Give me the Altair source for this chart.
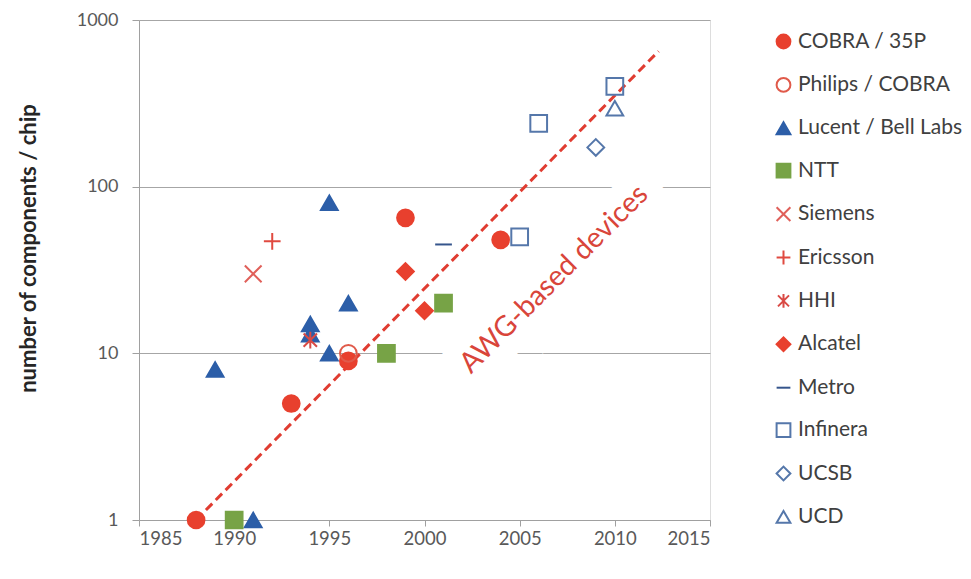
import altair as alt
import pandas as pd

# ---- data ----
companies = ["COBRA / 35P", "Philips / COBRA", "Lucent / Bell Labs", "NTT", "Siemens",
             "Ericsson", "HHI", "Alcatel", "Metro", "Infinera", "UCSB", "UCD"]

cobra_x = [1988, 1993, 1996, 1999, 2004]
cobra_y = [1, 5, 9, 65, 48]
philips_x = [1996]
philips_y = [10]
lucent_x = [1989, 1991, 1994, 1994, 1995, 1995, 1996]
lucent_y = [8, 1, 15, 13, 80, 10, 20]
ntt_x = [1990, 1998, 2001]
ntt_y = [1, 10, 20]
siemens_x = [1991]
siemens_y = [30]
ericsson_x = [1992]
ericsson_y = [47]
hhi_x = [1994]
hhi_y = [12]
alcatel_x = [1999, 2000]
alcatel_y = [31, 18]
metro_x = [2001]
metro_y = [45]
infinera_x = [2005, 2006, 2010]
infinera_y = [50, 240, 400]
ucsb_x = [2009]
ucsb_y = [172]
ucd_x = [2010]
ucd_y = [295]

trend_x = [1988, 2012.3]
trend_y = [1, 650]
label_text = ["AWG-based devices"]
label_x = [2006.8]
label_y = [28]

series = [cobra_x, philips_x, lucent_x, ntt_x, siemens_x, ericsson_x, hhi_x,
          alcatel_x, metro_x, infinera_x, ucsb_x, ucd_x]
series_y = [cobra_y, philips_y, lucent_y, ntt_y, siemens_y, ericsson_y, hhi_y,
            alcatel_y, metro_y, infinera_y, ucsb_y, ucd_y]

rows = []
for name, xs, ys in zip(companies, series, series_y):
    for xv, yv in zip(xs, ys):
        rows.append({"company": name, "year": xv, "count": yv})
df = pd.DataFrame(rows)

# ---- styles ----
RED = "#E8402E"
BLUE = "#2C5EA8"
GREEN = "#77A346"
STEEL = "#5577AA"
stroke_colors = [RED, "#E05A4A", BLUE, GREEN, "#E0605A", "#E04A40", "#D94A45",
                 RED, "#35558C", STEEL, STEEL, STEEL]
fill_colors = [RED, "transparent", BLUE, GREEN, "transparent", "transparent",
               "transparent", RED, "transparent", "transparent", "transparent", "transparent"]
shapes = ["circle", "circle", "triangle-up", "square",
          "M-1,-1L1,1M1,-1L-1,1",
          "M-1,0L1,0M0,-1L0,1",
          "M-0.8,-0.8L0.8,0.8M0.8,-0.8L-0.8,0.8M0,-1L0,1",
          "diamond",
          "M-1,0L1,0",
          "square", "diamond", "triangle-up"]

FONT = "Lato"
GRAY = "#595959"

legend = alt.Legend(title=None, orient="none", legendX=634, legendY=11,
                    labelFont=FONT, labelFontSize=21, labelColor="#404040",
                    labelLimit=220,
                    symbolSize=190, symbolStrokeWidth=2, rowPadding=20.4,
                    labelOffset=4, padding=0)

xscale = alt.Scale(domain=[1985, 2015], nice=False)
yscale = alt.Scale(type="log", domain=[1, 1000], nice=False)

points = alt.Chart(df).mark_point(size=280, strokeWidth=2, opacity=1).encode(
    x=alt.X("year:Q", scale=xscale,
            axis=alt.Axis(title=None, values=[1985, 1990, 1995, 2000, 2005, 2010, 2015],
                          format="d", grid=False, labelFont=FONT, labelFontSize=18.5,
                          labelColor=GRAY, domainColor="#A0A0A0", tickColor="#A0A0A0",
                          tickSize=6, labelPadding=3)),
    y=alt.Y("count:Q", scale=yscale,
            axis=alt.Axis(title="number of components / chip", values=[1, 10, 100, 1000],
                          format="d", grid=True, gridColor="#A6A6A6", labelFont=FONT,
                          labelFontSize=18, labelColor=GRAY, domainColor="#A0A0A0",
                          tickColor="#A0A0A0", tickSize=7, labelPadding=14,
                          titleFont=FONT, titleFontSize=22, titleFontWeight="bold",
                          titleColor="#262626", titleX=-111, titleY=228,
                          titleBaseline="middle")),
    shape=alt.Shape("company:N", scale=alt.Scale(domain=companies, range=shapes), legend=legend),
    stroke=alt.Stroke("company:N", scale=alt.Scale(domain=companies, range=stroke_colors), legend=legend),
    fill=alt.Fill("company:N", scale=alt.Scale(domain=companies, range=fill_colors), legend=legend),
)

trend_df = pd.DataFrame({"year": trend_x, "count": trend_y})
trend = alt.Chart(trend_df).mark_line(color="#E03C31", strokeWidth=3, strokeDash=[9, 5]).encode(
    x=alt.X("year:Q", scale=xscale),
    y=alt.Y("count:Q", scale=yscale),
)

lab_df = pd.DataFrame({"year": label_x, "count": label_y, "text": label_text})
halo = alt.Chart(lab_df).mark_text(angle=315, font=FONT, fontSize=28.5, stroke="white",
                                   strokeWidth=36, fill="white").encode(
    x=alt.X("year:Q", scale=xscale), y=alt.Y("count:Q", scale=yscale), text="text:N")
label = alt.Chart(lab_df).mark_text(angle=315, font=FONT, fontSize=28.5, color="#D9453A").encode(
    x=alt.X("year:Q", scale=xscale), y=alt.Y("count:Q", scale=yscale), text="text:N")

chart = alt.layer(halo, trend, points, label).properties(
    width=571, height=500,
    autosize=alt.AutoSizeParams(type="none"),
    padding={"left": 131, "top": 12, "right": 253, "bottom": 51},
).configure_view(stroke=None).configure(background="white")

chart.save("out.html", embed_options={"renderer": "svg", "actions": False})
